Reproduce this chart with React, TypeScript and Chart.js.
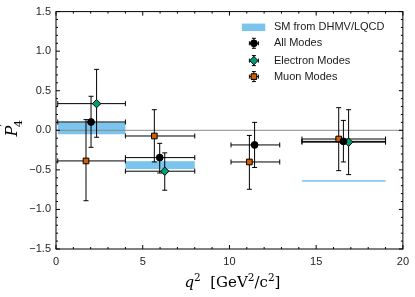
import { useEffect, useRef } from 'react';
import { Chart, registerables } from 'chart.js';

Chart.register(...registerables);

// q^2 bins
const binLow = [0.1, 4.0, 10.09, 14.18];
const binHigh = [4.0, 8.0, 12.9, 19.0];

// SM prediction band per bin (null = none)
const smLow: (number | null)[] = [-0.05, -0.49, null, -0.65];
const smHigh: (number | null)[] = [0.10, -0.39, null, -0.63];

// All modes
const allBins = [0, 1, 2, 3];
const allX = [2.02, 5.98, 11.45, 16.57];
const allY = [0.105, -0.345, -0.185, -0.14];
const allUp = [0.325, 0.18, 0.285, 0.265];
const allDown = [0.32, 0.195, 0.285, 0.26];

// Electron modes
const eleBins = [0, 1, 3];
const eleX = [2.34, 6.27, 16.87];
const eleY = [0.337, -0.517, -0.15];
const eleUp = [0.433, 0.232, 0.41];
const eleDown = [0.425, 0.24, 0.41];

// Muon modes
const muBins = [0, 1, 2, 3];
const muX = [1.73, 5.67, 11.15, 16.3];
const muY = [-0.387, -0.072, -0.40, -0.11];
const muUp = [0.522, 0.332, 0.335, 0.396];
const muDown = [0.503, 0.328, 0.345, 0.40];

const xTicks = [0, 5, 10, 15, 20];
const yTicks = [-1.5, -1.0, -0.5, 0.0, 0.5, 1.0, 1.5];

const legendLabels = ['SM from DHMV/LQCD', 'All Modes', 'Electron Modes', 'Muon Modes'];

const BAND = 'rgba(86,180,233,0.78)';
const GREEN = '#009E73';
const ORANGE = '#D55E00';

const fmt = (v: number, d: number) => (v < 0 ? '\u2212' : '') + Math.abs(v).toFixed(d);

export default function App() {
  const ref = useRef<HTMLCanvasElement | null>(null);

  useEffect(() => {
    document.body.style.margin = '0';
    const canvas = ref.current!;
    const mk = (bins: number[], xs: number[], ys: number[], up: number[], dn: number[]) =>
      xs.map((x, i) => ({ x, y: ys[i], lo: binLow[bins[i]], hi: binHigh[bins[i]], up: ys[i] + up[i], dn: ys[i] - dn[i] }));

    const series = [
      { label: legendLabels[1], data: mk(allBins, allX, allY, allUp, allDown), style: 'circle', r: 3.4, bg: '#000' },
      { label: legendLabels[2], data: mk(eleBins, eleX, eleY, eleUp, eleDown), style: 'rectRot', r: 4.2, bg: GREEN },
      { label: legendLabels[3], data: mk(muBins, muX, muY, muUp, muDown), style: 'rect', r: 4.0, bg: ORANGE },
    ];

    const drawErr = (ctx: CanvasRenderingContext2D, x0: number, x1: number, y: number, xc: number, y0: number, y1: number, c = 2.5) => {
      ctx.beginPath();
      ctx.moveTo(x0, y); ctx.lineTo(x1, y);
      ctx.moveTo(x0, y - c); ctx.lineTo(x0, y + c);
      ctx.moveTo(x1, y - c); ctx.lineTo(x1, y + c);
      ctx.moveTo(xc, y0); ctx.lineTo(xc, y1);
      ctx.moveTo(xc - c, y0); ctx.lineTo(xc + c, y0);
      ctx.moveTo(xc - c, y1); ctx.lineTo(xc + c, y1);
      ctx.stroke();
    };

    const drawMarker = (ctx: CanvasRenderingContext2D, style: string, x: number, y: number, r: number, bg: string) => {
      ctx.save();
      ctx.fillStyle = bg;
      ctx.strokeStyle = '#000';
      ctx.lineWidth = 1;
      ctx.beginPath();
      if (style === 'circle') ctx.arc(x, y, r, 0, Math.PI * 2);
      else if (style === 'rect') { const s = r * Math.SQRT1_2; ctx.rect(x - s, y - s, 2 * s, 2 * s); }
      else { ctx.moveTo(x, y - r); ctx.lineTo(x + r, y); ctx.lineTo(x, y + r); ctx.lineTo(x - r, y); ctx.closePath(); }
      ctx.fill(); ctx.stroke();
      ctx.restore();
    };

    const plugin = {
      id: 'custom',
      beforeDatasetsDraw(chart: any) {
        const { ctx, chartArea: a, scales } = chart;
        const xs = scales.x, ys = scales.y;
        ctx.save();
        ctx.beginPath(); ctx.rect(a.left, a.top, a.right - a.left, a.bottom - a.top); ctx.clip();
        // SM band
        ctx.fillStyle = BAND;
        for (let i = 0; i < binLow.length; i++) {
          const lo = smLow[i], hi = smHigh[i];
          if (lo === null || hi === null) continue;
          const x0 = xs.getPixelForValue(binLow[i]), x1 = xs.getPixelForValue(binHigh[i]);
          const y0 = ys.getPixelForValue(hi), y1 = ys.getPixelForValue(lo);
          ctx.fillRect(x0, y0, x1 - x0, y1 - y0);
        }
        // zero line
        ctx.strokeStyle = '#8a8a8a'; ctx.lineWidth = 1;
        const yz = ys.getPixelForValue(0);
        ctx.beginPath(); ctx.moveTo(a.left, yz); ctx.lineTo(a.right, yz); ctx.stroke();
        // error bars
        ctx.strokeStyle = '#000'; ctx.lineWidth = 1;
        chart.data.datasets.forEach((ds: any) => {
          ds.data.forEach((p: any) => {
            drawErr(ctx, xs.getPixelForValue(p.lo), xs.getPixelForValue(p.hi), ys.getPixelForValue(p.y),
              xs.getPixelForValue(p.x), ys.getPixelForValue(p.up), ys.getPixelForValue(p.dn));
          });
        });
        ctx.restore();
      },
      afterDraw(chart: any) {
        const { ctx, chartArea: a, scales } = chart;
        const xs = scales.x, ys = scales.y;
        ctx.save();
        // frame
        ctx.strokeStyle = '#000'; ctx.lineWidth = 1;
        ctx.strokeRect(a.left, a.top, a.right - a.left, a.bottom - a.top);
        // inward ticks
        ctx.beginPath();
        for (let v = 0; v <= 20; v += 1) {
          const px = xs.getPixelForValue(v);
          const L = v % 5 === 0 ? 4 : 2;
          ctx.moveTo(px, a.bottom); ctx.lineTo(px, a.bottom - L);
          ctx.moveTo(px, a.top); ctx.lineTo(px, a.top + L);
        }
        for (let k = -15; k <= 15; k++) {
          const py = ys.getPixelForValue(k / 10);
          const L = k % 5 === 0 ? 4 : 2;
          ctx.moveTo(a.left, py); ctx.lineTo(a.left + L, py);
          ctx.moveTo(a.right, py); ctx.lineTo(a.right - L, py);
        }
        ctx.stroke();

        // legend
        const lx = a.right - 149, tx = a.right - 129;
        const rows = [a.top + 15.7, a.top + 31.7, a.top + 49, a.top + 65];
        ctx.fillStyle = BAND;
        ctx.fillRect(a.right - 161, rows[0] - 3.7, 23.4, 7.4);
        ctx.font = '11px "Liberation Sans", Arial, sans-serif';
        ctx.textBaseline = 'middle';
        ctx.textAlign = 'left';
        series.forEach((s, i) => {
          const y = rows[i + 1];
          ctx.strokeStyle = '#000'; ctx.lineWidth = 1;
          drawErr(ctx, lx - 4.5, lx + 4.5, y, lx, y - 5, y + 5, 2);
          drawMarker(ctx, s.style, lx, y, s.r, s.bg);
        });
        ctx.fillStyle = '#1a1a1a';
        legendLabels.forEach((t, i) => ctx.fillText(t, tx, rows[i]));

        // x title: q^2 [GeV^2/c^2]
        const serif = '"DejaVu Serif", "Liberation Serif", serif';
        const fs = 15, sup = 10.5;
        const parts: [string, string, number][] = [
          ['q', `italic ${fs}px ${serif}`, 0],
          ['2', `${sup}px ${serif}`, -6.5],
          ['  [GeV', `${fs}px ${serif}`, 0],
          ['2', `${sup}px ${serif}`, -6.5],
          ['/c', `${fs}px ${serif}`, 0],
          ['2', `${sup}px ${serif}`, -6.5],
          [']', `${fs}px ${serif}`, 0],
        ];
        ctx.fillStyle = '#000';
        ctx.textBaseline = 'alphabetic';
        let w = 0;
        parts.forEach(([t, f]) => { ctx.font = f; w += ctx.measureText(t).width; });
        let x = (a.left + a.right) / 2 + 3 - w / 2;
        const base = 287;
        parts.forEach(([t, f, dy]) => { ctx.font = f; ctx.fillText(t, x, base + dy); x += ctx.measureText(t).width; });

        // y title: P'_4 rotated
        ctx.translate(17, 128);
        ctx.rotate(-Math.PI / 2);
        ctx.font = `italic 16px ${serif}`;
        const wP = ctx.measureText('P').width;
        ctx.font = `11px ${serif}`;
        const w4 = ctx.measureText('4').width;
        const startX = -(wP + w4 - 1) / 2;
        ctx.font = `italic 16px ${serif}`;
        ctx.fillText('P', startX, 0);
        ctx.font = `12px ${serif}`;
        ctx.fillText('\u2032', startX + wP - 1, -8);
        ctx.font = `11px ${serif}`;
        ctx.fillText('4', startX + wP - 1.5, 5);
        ctx.restore();
      },
    };

    const chart = new Chart(canvas, {
      type: 'scatter',
      data: {
        datasets: series.map((s) => ({
          label: s.label,
          data: s.data as any,
          pointStyle: s.style as any,
          pointRadius: s.r,
          pointHoverRadius: s.r,
          backgroundColor: s.bg,
          borderColor: '#000',
          borderWidth: 1,
        })),
      },
      options: {
        animation: false,
        responsive: false,
        events: [],
        layout: { padding: { top: 11, right: 12, left: 0, bottom: 0 } },
        plugins: { legend: { display: false }, tooltip: { enabled: false } },
        scales: {
          x: {
            type: 'linear', min: 0, max: 20,
            grid: { display: false, drawTicks: false },
            border: { display: false },
            afterFit: (s: any) => { s.height = 48; },
            afterBuildTicks: (s: any) => { s.ticks = xTicks.map((v) => ({ value: v })); },
            ticks: {
              padding: 6, color: '#262626',
              font: { family: '"Liberation Sans", Arial, sans-serif', size: 11 },
              callback: (v: any) => fmt(Number(v), 0),
            },
          },
          y: {
            type: 'linear', min: -1.5, max: 1.5,
            grid: { display: false, drawTicks: false },
            border: { display: false },
            afterFit: (s: any) => { s.width = 56; },
            afterBuildTicks: (s: any) => { s.ticks = yTicks.map((v) => ({ value: v })); },
            ticks: {
              padding: 5, color: '#262626',
              font: { family: '"Liberation Sans", Arial, sans-serif', size: 11 },
              callback: (v: any) => fmt(Number(v), 1),
            },
          },
        },
      },
      plugins: [plugin],
    });
    return () => chart.destroy();
  }, []);

  return (
    <div style={{ position: 'absolute', left: 0, top: 0, width: 415, height: 297, background: '#fff' }}>
      <canvas ref={ref} width={415} height={297} style={{ width: 415, height: 297, display: 'block' }} />
    </div>
  );
}
